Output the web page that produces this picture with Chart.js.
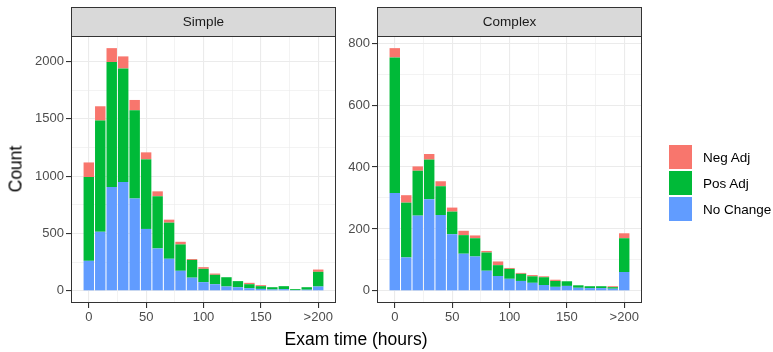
<!DOCTYPE html>
<html>
<head>
<meta charset="utf-8">
<script src="https://cdn.jsdelivr.net/npm/chart.js@4.4.1/dist/chart.umd.min.js"></script>
<style>
  body { margin: 0; background: #fff; }
  #wrap { position: relative; width: 773px; height: 352px; font-family: "Liberation Sans", Arial, sans-serif; overflow: hidden; }
  canvas { position: absolute; top: 0; }
  #simpleChart { left: 0; }
  #complexChart { left: 345px; }
  .axis-title { position: absolute; font-size: 17.5px; color: #000; white-space: nowrap; }
  #xTitle { left: 356px; top: 339px; transform: translate(-50%, -50%); }
  #yTitle { left: 16px; top: 169px; transform: translate(-50%, -50%) rotate(-90deg); }
  #legend { position: absolute; left: 669px; top: 144px; }
  .item { display: flex; align-items: center; height: 26px; }
  .key { width: 23px; height: 24px; margin-right: 11px; }
  .lab { font-size: 13.5px; color: #000; }
</style>
</head>
<body>
<div id="wrap">
  <canvas id="simpleChart" width="345" height="352"></canvas>
  <canvas id="complexChart" width="428" height="352"></canvas>
  <div class="axis-title" id="yTitle">Count</div>
  <div class="axis-title" id="xTitle">Exam time (hours)</div>
  <div id="legend"></div>
</div>
<script>
// bins of 10 hours, last bin is ">200"
const binCenters = [0, 10, 20, 30, 40, 50, 60, 70, 80, 90, 100, 110, 120, 130, 140, 150, 160, 170, 180, 190, 200];
const xTickValues = [0, 50, 100, 150, 200];
const xTickLabels = ['0', '50', '100', '150', '>200'];

// stack order bottom -> top
const seriesNames = ['No Change', 'Pos Adj', 'Neg Adj'];
const seriesColors = ['#619CFF', '#00BA38', '#F8766D'];

// Simple exams
const simpleNoChange = [262, 515, 905, 950, 805, 540, 370, 280, 175, 115, 76, 58, 38, 32, 23, 17, 12, 15, 7, 10, 38];
const simplePosAdj   = [731, 970, 1090, 990, 770, 607, 455, 315, 230, 155, 116, 82, 81, 53, 35, 24, 20, 26, 8, 22, 128];
const simpleNegAdj   = [127, 125, 122, 105, 90, 61, 43, 26, 23, 8, 15, 11, 0, 0, 12, 9, 0, 0, 0, 0, 20];
const simpleYTicks = [0, 500, 1000, 1500, 2000];

// Complex exams
const complexNoChange = [316, 108, 243, 296, 245, 183, 120, 111, 65, 48, 39, 32, 26, 19, 13, 16, 10, 9, 9, 7, 61];
const complexPosAdj   = [438, 177, 145, 128, 93, 73, 60, 59, 59, 35, 32, 23, 21, 25, 19, 15, 8, 6, 6, 5, 109];
const complexNegAdj   = [30, 24, 14, 18, 16, 13, 14, 9, 5, 12, 3, 3, 4, 3, 4, 0, 0, 0, 0, 3, 16];
const complexYTicks = [0, 200, 400, 600, 800];

Chart.defaults.font.family = '"Liberation Sans", Arial, sans-serif';

const X_MIN = -15.5, X_MAX = 215.5;

// major ticks plus the minor ones half way between them (ggplot style grid)
function gridValues(major, min, max) {
  const half = (major[1] - major[0]) / 2;
  const out = [];
  for (let v = major[0] - half; v <= major[major.length - 1] + half + 1e-9; v += half) {
    if (v >= min && v <= max) out.push(v);
  }
  return out;
}

// panel border + facet strip
const facetPlugin = {
  id: 'facet',
  afterDraw(chart, args, opts) {
    const { ctx, chartArea: a } = chart;
    ctx.save();
    ctx.fillStyle = '#D9D9D9';
    ctx.fillRect(a.left, 7, a.right - a.left, a.top - 7);
    ctx.strokeStyle = '#333333';
    ctx.lineWidth = 1;
    ctx.strokeRect(Math.round(a.left) + 0.5, 7.5, Math.round(a.right - a.left) - 1, Math.round(a.top) - 7);
    ctx.strokeRect(Math.round(a.left) + 0.5, Math.round(a.top) + 0.5, Math.round(a.right - a.left) - 1, Math.round(a.bottom - a.top) - 1);
    ctx.fillStyle = '#1A1A1A';
    ctx.font = '13.5px "Liberation Sans", Arial, sans-serif';
    ctx.textAlign = 'center';
    ctx.textBaseline = 'middle';
    ctx.fillText(opts.title, (a.left + a.right) / 2, (7 + a.top) / 2 + 1);
    ctx.restore();
  }
};

function makePanel(id, title, series, yTicks, padding, yWidth) {
  const totals = binCenters.map((_, i) => series.reduce((s, arr) => s + arr[i], 0));
  const top = Math.max(...totals);
  const yMin = -top * 0.05, yMax = top * 1.05;
  const yMajor = new Set(yTicks);
  const xMajor = new Set(xTickValues);

  new Chart(document.getElementById(id).getContext('2d'), {
    type: 'bar',
    data: {
      datasets: series.map((arr, k) => ({
        label: seriesNames[k],
        data: binCenters.map((x, i) => ({ x, y: arr[i] })),
        backgroundColor: seriesColors[k],
        borderWidth: 0,
        barPercentage: 0.91,
        categoryPercentage: 1
      }))
    },
    options: {
      responsive: false,
      animation: false,
      layout: { padding },
      plugins: { legend: { display: false }, tooltip: { enabled: false }, facet: { title } },
      scales: {
        x: {
          type: 'linear', stacked: true, min: X_MIN, max: X_MAX, offset: false,
          afterBuildTicks: s => { s.ticks = gridValues(xTickValues, X_MIN, X_MAX).map(v => ({ value: v })); },
          afterFit: s => { s.height = 24; s.paddingLeft = 0; s.paddingRight = 0; },
          border: { display: false },
          grid: {
            offset: false,
            color: '#EBEBEB',
            lineWidth: c => (c.tick && xMajor.has(c.tick.value) ? 1.1 : 0.6),
            tickColor: c => (c.tick && xMajor.has(c.tick.value) ? '#333333' : 'rgba(0,0,0,0)'),
            tickLength: 5
          },
          ticks: {
            autoSkip: false, maxRotation: 0, padding: 2, color: '#4D4D4D', font: { size: 13 },
            callback: v => { const i = xTickValues.indexOf(v); return i >= 0 ? xTickLabels[i] : ''; }
          }
        },
        y: {
          stacked: true, min: yMin, max: yMax,
          afterBuildTicks: s => { s.ticks = gridValues(yTicks, yMin, yMax).map(v => ({ value: v })); },
          afterFit: s => { s.width = yWidth; s.paddingTop = 0; s.paddingBottom = 0; },
          border: { display: false },
          grid: {
            color: '#EBEBEB',
            lineWidth: c => (c.tick && yMajor.has(c.tick.value) ? 1.1 : 0.6),
            tickColor: c => (c.tick && yMajor.has(c.tick.value) ? '#333333' : 'rgba(0,0,0,0)'),
            tickLength: 5
          },
          ticks: {
            padding: 2, color: '#4D4D4D', font: { size: 13 },
            callback: v => (yMajor.has(v) ? String(v) : '')
          }
        }
      }
    },
    plugins: [facetPlugin]
  });
}

makePanel('simpleChart', 'Simple', [simpleNoChange, simplePosAdj, simpleNegAdj], simpleYTicks,
  { left: 0, right: 9, top: 36, bottom: 25 }, 71);
makePanel('complexChart', 'Complex', [complexNoChange, complexPosAdj, complexNegAdj], complexYTicks,
  { left: 0, right: 131, top: 36, bottom: 25 }, 32);

// legend, top to bottom as in the reference
const legend = document.getElementById('legend');
for (let k = seriesNames.length - 1; k >= 0; k--) {
  const item = document.createElement('div');
  item.className = 'item';
  item.innerHTML = `<div class="key" style="background:${seriesColors[k]}"></div><div class="lab">${seriesNames[k]}</div>`;
  legend.appendChild(item);
}
</script>
</body>
</html>
